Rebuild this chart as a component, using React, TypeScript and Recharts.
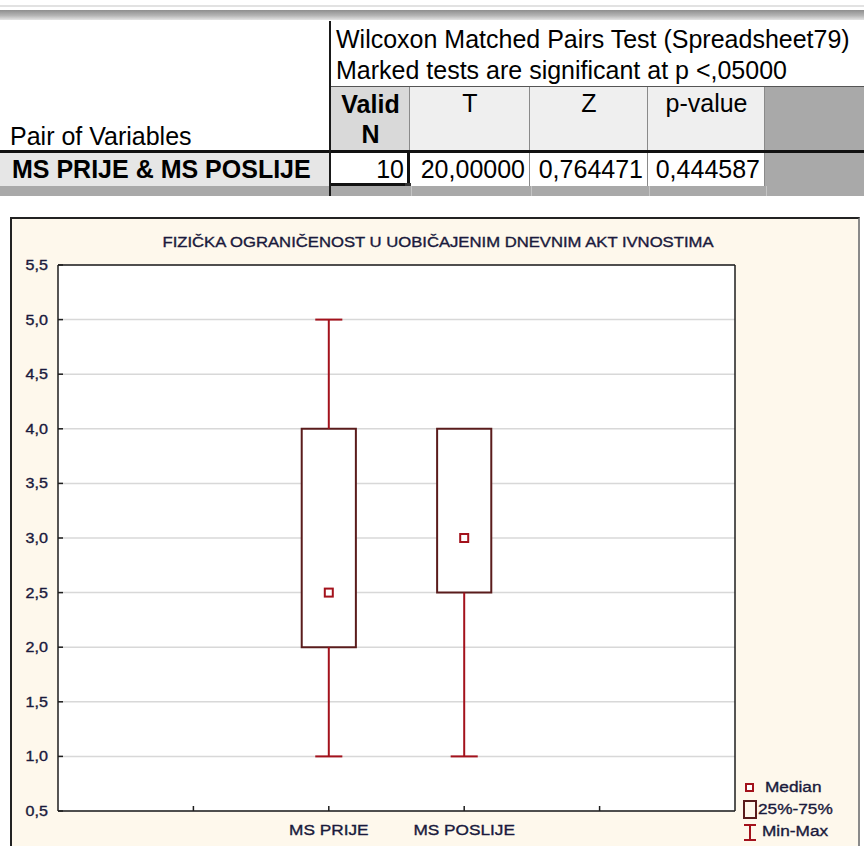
import React from 'react';
import {
  ComposedChart,
  XAxis,
  YAxis,
  CartesianGrid,
  ReferenceArea,
  ReferenceLine,
  Scatter,
  Legend,
} from 'recharts';

// ---------- table data ----------
const testTitle = 'Wilcoxon Matched Pairs Test (Spreadsheet79)';
const testNote = 'Marked tests are significant at p <,05000';
const rowHeader = 'Pair of Variables';
const pairLabel = 'MS PRIJE & MS POSLIJE';
const columnHeaders = ['T', 'Z', 'p-value'];
const rowValues = ['10', '20,00000', '0,764471', '0,444587'];

// ---------- chart data ----------
const chartTitle = 'FIZIČKA OGRANIČENOST U UOBIČAJENIM DNEVNIM AKT IVNOSTIMA';
const categories = ['MS PRIJE', 'MS POSLIJE'];
const categoryPositions = [2, 3];
const minValues = [1, 1];
const q1Values = [2, 2.5];
const medianValues = [2.5, 3];
const q3Values = [4, 4];
const maxValues = [5, 4];
const xTicks = [1, 2, 3, 4];
const yTicks = [0.5, 1, 1.5, 2, 2.5, 3, 3.5, 4, 4.5, 5, 5.5];
const yTickLabels = ['0,5', '1,0', '1,5', '2,0', '2,5', '3,0', '3,5', '4,0', '4,5', '5,0', '5,5'];
const legendLabels = ['Median', '25%-75%', 'Min-Max'];

// ---------- styles ----------
const FONT = '"Liberation Sans", Arial, Helvetica, sans-serif';
const TEXT = '#1a1a3c';
const AXIS = '#1e1e1e';
const WHISKER = '#a3121c';
const BOX = '#5a1c1c';
const GRID = '#d8d8d8';
const CREAM = '#fef8ec';
const STRETCH = 1.15;
const BOX_HALF = 0.2;
const CAP_HALF = 0.1;

const medianPoints = categories.map((c, i) => ({ x: categoryPositions[i], y: medianValues[i], name: c }));

const whiskerSegments: { x: number; y: number }[][] = [];
categories.forEach((_, i) => {
  const x = categoryPositions[i];
  if (q1Values[i] > minValues[i]) {
    whiskerSegments.push([{ x, y: minValues[i] }, { x, y: q1Values[i] }]);
    whiskerSegments.push([{ x: x - CAP_HALF, y: minValues[i] }, { x: x + CAP_HALF, y: minValues[i] }]);
  }
  if (maxValues[i] > q3Values[i]) {
    whiskerSegments.push([{ x, y: q3Values[i] }, { x, y: maxValues[i] }]);
    whiskerSegments.push([{ x: x - CAP_HALF, y: maxValues[i] }, { x: x + CAP_HALF, y: maxValues[i] }]);
  }
});

const SText = ({ x, y, anchor = 'start', size = 14, fill = TEXT, children }: any) => (
  <text
    transform={`translate(${x} ${y}) scale(${STRETCH} 1)`}
    x={0}
    y={0}
    textAnchor={anchor}
    fontSize={size}
    fontFamily={FONT}
    fill={fill}
    stroke={fill}
    strokeWidth={0.35}
  >
    {children}
  </text>
);

const LeftTick = (props: any) => {
  const { x, y, payload } = props;
  const i = yTicks.indexOf(payload.value);
  return (
    <g>
      <SText x={x} y={y + 5} anchor="end" size={14}>
        {yTickLabels[i]}
      </SText>
      <line x1={x + 10} x2={x + 15} y1={y} y2={y} stroke={AXIS} strokeWidth={1.5} />
    </g>
  );
};

const RightTick = (props: any) => {
  const { x, y } = props;
  return <line x1={x - 5} x2={x} y1={y} y2={y} stroke={AXIS} strokeWidth={1.5} />;
};

const BottomTick = (props: any) => {
  const { x, y, payload } = props;
  const i = categoryPositions.indexOf(payload.value);
  return (
    <g>
      <line x1={x} x2={x} y1={y} y2={y - 5} stroke={AXIS} strokeWidth={1.5} />
      {i >= 0 && (
        <SText x={x} y={y + 24} anchor="middle" size={15}>
          {categories[i]}
        </SText>
      )}
    </g>
  );
};

const TopTick = (props: any) => {
  const { x, y } = props;
  return <line x1={x} x2={x} y1={y} y2={y + 5} stroke={AXIS} strokeWidth={1.5} />;
};

const MedianShape = (props: any) => {
  const { cx, cy } = props;
  return <rect x={cx - 4} y={cy - 4} width={8} height={8} fill="#ffffff" stroke={WHISKER} strokeWidth={2} />;
};

const LegendContent = () => (
  <svg width={110} height={70} style={{ overflow: 'visible' }}>
    <rect x={6} y={6} width={7} height={7} fill="#ffffff" stroke={WHISKER} strokeWidth={2} />
    <SText x={25} y={14} size={15}>{legendLabels[0]}</SText>
    <rect x={4} y={23} width={12} height={17} fill="none" stroke={BOX} strokeWidth={2} />
    <SText x={18} y={36} size={15}>{legendLabels[1]}</SText>
    <line x1={10} x2={10} y1={47} y2={62} stroke={WHISKER} strokeWidth={2} />
    <line x1={4} x2={16} y1={47} y2={47} stroke={WHISKER} strokeWidth={2} />
    <line x1={4} x2={16} y1={62} y2={62} stroke={WHISKER} strokeWidth={2} />
    <SText x={22} y={58} size={15}>{legendLabels[2]}</SText>
  </svg>
);

const abs = (left: number, top: number, width: number, height: number, extra: any = {}) => ({
  position: 'absolute' as const,
  left,
  top,
  width,
  height,
  ...extra,
});

const Cell = ({ l, t, w, h, align = 'left', bold = false, pad = 0, children }: any) => (
  <div
    style={abs(l, t, w, h, {
      lineHeight: `${h}px`,
      textAlign: align,
      fontWeight: bold ? 700 : 400,
      fontSize: 25,
      fontFamily: FONT,
      color: '#000',
      whiteSpace: 'nowrap',
      boxSizing: 'border-box',
      paddingLeft: align === 'left' ? pad : 0,
      paddingRight: align === 'right' ? pad : 0,
      overflow: 'visible',
    })}
  >
    {children}
  </div>
);

const colEdges = [331, 410, 530, 648, 765, 864];

const Table = () => (
  <>
    <div style={abs(0, 5, 864, 2, { background: '#e2e2e2' })} />
    <div style={abs(0, 10, 864, 10, { background: 'linear-gradient(#8e8e8e, #b4b4b4 55%, #e4e4e4)' })} />

    {/* header area */}
    <Cell l={336} t={24} w={528} h={30}>{testTitle}</Cell>
    <Cell l={336} t={55} w={528} h={30}>{testNote}</Cell>
    <div style={abs(331, 86, 533, 1, { background: '#555' })} />

    <div style={abs(colEdges[0], 87, colEdges[1] - colEdges[0], 64, { background: '#d9d9d9' })} />
    {[1, 2, 3].map((k) => (
      <div key={k} style={abs(colEdges[k], 87, colEdges[k + 1] - colEdges[k], 64, { background: '#efefef' })} />
    ))}
    <div style={abs(colEdges[4], 87, colEdges[5] - colEdges[4], 64, { background: '#a9a9a9' })} />
    {[1, 2, 3, 4].map((k) => (
      <div key={k} style={abs(colEdges[k] - 1, 87, 1, 64, { background: '#8a8a8a' })} />
    ))}

    <Cell l={colEdges[0]} t={89} w={colEdges[1] - colEdges[0]} h={30} align="center" bold>Valid</Cell>
    <Cell l={colEdges[0]} t={119} w={colEdges[1] - colEdges[0]} h={30} align="center" bold>N</Cell>
    {columnHeaders.map((c, k) => (
      <Cell key={c} l={colEdges[k + 1]} t={88} w={colEdges[k + 2] - colEdges[k + 1]} h={30} align="center">
        {c}
      </Cell>
    ))}

    <Cell l={10} t={121} w={320} h={30}>{rowHeader}</Cell>

    {/* thick separator */}
    <div style={abs(0, 150, 864, 3, { background: '#111' })} />

    {/* data row */}
    <div style={abs(0, 153, 330, 33, { background: '#e6e6e6' })} />
    <Cell l={12} t={153} w={318} h={32} bold>{pairLabel}</Cell>
    <div style={abs(colEdges[0], 153, colEdges[4] - colEdges[0], 33, { background: '#ffffff' })} />
    <div style={abs(colEdges[4], 153, colEdges[5] - colEdges[4], 33, { background: '#a9a9a9' })} />
    {[2, 3, 4].map((k) => (
      <div key={k} style={abs(colEdges[k] - 1, 153, 1, 33, { background: '#8a8a8a' })} />
    ))}
    {rowValues.map((v, k) => (
      <Cell key={k} l={colEdges[k]} t={153} w={colEdges[k + 1] - colEdges[k]} h={32} align="right" pad={k === 0 ? 6 : 5}>
        {v}
      </Cell>
    ))}
    {/* selected cell frame */}
    <div style={abs(colEdges[0], 183, colEdges[1] - colEdges[0] - 2, 3, { background: '#111' })} />
    <div style={abs(colEdges[1] - 3, 153, 3, 31, { background: '#111' })} />
    <div style={abs(colEdges[1] - 5, 183, 6, 7, { background: '#333' })} />

    {/* gray strip */}
    <div style={abs(0, 186, 864, 10, { background: '#a9a9a9' })} />
    {[1, 2, 3, 4].map((k) => (
      <div key={k} style={abs(colEdges[k] + 1, 186, 1, 10, { background: '#c4c4c4' })} />
    ))}

    {/* vertical divider */}
    <div style={abs(329, 21, 2, 175, { background: '#1a1a1a' })} />
  </>
);

export default function App() {
  return (
    <div style={{ position: 'fixed', left: 0, top: 0, width: 864, height: 846, overflow: 'hidden', background: '#ffffff' }}>
      <Table />
      <div
        style={abs(10, 217, 850, 660, {
          background: CREAM,
          borderLeft: '2px solid #222',
          borderTop: '2px solid #222',
          borderRight: '2px solid #8a8a8a',
          boxSizing: 'border-box',
        })}
      />
      <div style={abs(12, 218, 846, 628)}>
        <ComposedChart width={846} height={628} margin={{ top: 46, right: 122, bottom: 5, left: 0 }}>
          <CartesianGrid horizontal vertical={false} stroke={GRID} strokeWidth={1.5} fill="#ffffff" />
          <XAxis
            xAxisId={0}
            dataKey="x"
            type="number"
            domain={[0, 5]}
            ticks={xTicks}
            interval={0}
            orientation="bottom"
            height={30}
            tickSize={0}
            tickMargin={0}
            tickLine={false}
            axisLine={{ stroke: AXIS, strokeWidth: 1.5 }}
            tick={<BottomTick />}
          />
          <XAxis
            xAxisId="top"
            dataKey="x"
            type="number"
            domain={[0, 5]}
            ticks={xTicks}
            interval={0}
            orientation="top"
            height={1}
            tickSize={0}
            tickMargin={0}
            tickLine={false}
            axisLine={{ stroke: AXIS, strokeWidth: 1.5 }}
            tick={<TopTick />}
          />
          <YAxis
            yAxisId={0}
            dataKey="y"
            type="number"
            domain={[0.5, 5.5]}
            ticks={yTicks}
            interval={0}
            orientation="left"
            width={46}
            tickSize={0}
            tickMargin={10}
            tickLine={false}
            axisLine={{ stroke: AXIS, strokeWidth: 1.5 }}
            tick={<LeftTick />}
          />
          <YAxis
            yAxisId="right"
            dataKey="y"
            type="number"
            domain={[0.5, 5.5]}
            ticks={yTicks}
            interval={0}
            orientation="right"
            width={1}
            tickSize={0}
            tickMargin={0}
            tickLine={false}
            axisLine={{ stroke: AXIS, strokeWidth: 1.5 }}
            tick={<RightTick />}
          />
          {whiskerSegments.map((seg, k) => (
            <ReferenceLine key={`w${k}`} segment={seg} stroke={WHISKER} strokeWidth={2} />
          ))}
          {categories.map((c, i) => (
            <ReferenceArea
              key={c}
              x1={categoryPositions[i] - BOX_HALF}
              x2={categoryPositions[i] + BOX_HALF}
              y1={q1Values[i]}
              y2={q3Values[i]}
              fill="#ffffff"
              fillOpacity={1}
              stroke={BOX}
              strokeWidth={2}
            />
          ))}
          <Scatter data={medianPoints} dataKey="y" shape={<MedianShape />} isAnimationActive={false} />
          <Legend
            layout="horizontal"
            verticalAlign="middle"
            align="center"
            content={<LegendContent />}
            wrapperStyle={{ left: 728, top: 560, width: 110, height: 70 }}
          />
          <SText x={426} y={29} anchor="middle" size={14.5}>
            {chartTitle}
          </SText>
        </ComposedChart>
      </div>
    </div>
  );
}
